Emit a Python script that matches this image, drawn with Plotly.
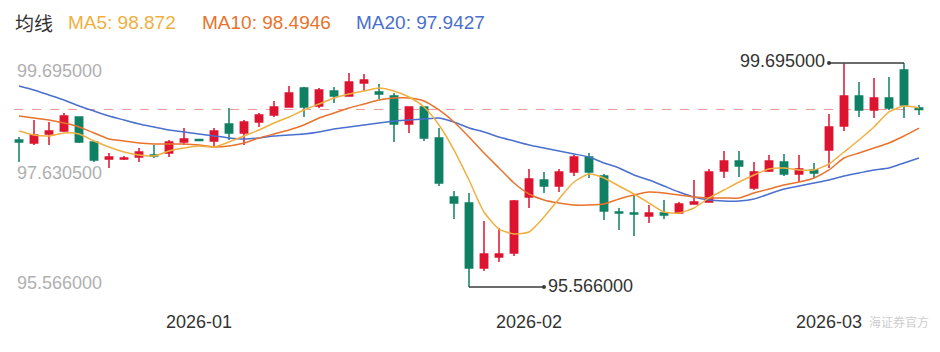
import plotly.graph_objects as go

# ---------------- data ----------------
dates = [
    "2025-12-16", "2025-12-17", "2025-12-18", "2025-12-19", "2025-12-22", "2025-12-23",
    "2025-12-24", "2025-12-25", "2025-12-26", "2025-12-29", "2025-12-30", "2025-12-31",
    "2026-01-01", "2026-01-02", "2026-01-05", "2026-01-06", "2026-01-07", "2026-01-08",
    "2026-01-09", "2026-01-12", "2026-01-13", "2026-01-14", "2026-01-15", "2026-01-16",
    "2026-01-19", "2026-01-20", "2026-01-21", "2026-01-22", "2026-01-23", "2026-01-26",
    "2026-01-27", "2026-01-28", "2026-01-29", "2026-01-30",
    "2026-02-02", "2026-02-03", "2026-02-04", "2026-02-05", "2026-02-06", "2026-02-09",
    "2026-02-10", "2026-02-11", "2026-02-12", "2026-02-13", "2026-02-16", "2026-02-17",
    "2026-02-18", "2026-02-19", "2026-02-20", "2026-02-23", "2026-02-24", "2026-02-25",
    "2026-02-26", "2026-02-27",
    "2026-03-02", "2026-03-03", "2026-03-04", "2026-03-05", "2026-03-06", "2026-03-09",
    "2026-03-10",
]

open_ = [
    98.276, 98.220, 98.386, 98.442, 98.700, 98.239, 97.925, 97.925, 97.962, 97.999,
    98.036, 98.239, 98.285, 98.257, 98.571, 98.405, 98.607, 98.736, 98.884, 99.234,
    98.902, 99.179, 99.087, 99.326, 99.160, 99.087, 98.571, 98.884, 98.313, 97.225,
    97.114, 95.916, 96.119, 96.193, 97.225, 97.538, 97.428, 97.686, 97.962, 97.612,
    96.948, 96.930, 96.875, 96.930, 96.930, 97.096, 97.133, 97.704, 97.889, 97.391,
    97.704, 97.870, 97.649, 97.723, 98.091, 98.534, 99.087, 98.829, 99.050, 99.566,
    98.866,
]
high = [
    98.331, 98.644, 98.607, 98.773, 98.705, 98.245, 98.036, 97.981, 98.128, 98.184,
    98.276, 98.497, 98.294, 98.497, 98.866, 98.644, 98.773, 98.995, 99.271, 99.253,
    99.234, 99.253, 99.511, 99.492, 99.308, 99.142, 98.890, 98.890, 98.497, 97.336,
    97.299, 96.783, 96.654, 97.170, 97.741, 97.686, 97.741, 97.999, 98.036, 97.649,
    97.022, 97.280, 97.078, 97.170, 97.133, 97.538, 97.741, 98.073, 98.073, 97.870,
    97.999, 98.018, 97.999, 97.852, 98.755, 99.686, 99.345, 99.419, 99.437, 99.695,
    98.921,
]
low = [
    97.870, 98.184, 98.184, 98.423, 98.220, 97.870, 97.760, 97.907, 97.870, 97.944,
    97.962, 98.184, 98.257, 98.147, 98.276, 98.184, 98.515, 98.700, 98.880, 98.700,
    98.866, 98.958, 99.082, 99.179, 99.031, 98.239, 98.405, 98.257, 97.428, 96.819,
    95.566, 95.861, 96.027, 96.137, 97.022, 97.299, 97.317, 97.612, 97.575, 96.801,
    96.617, 96.506, 96.746, 96.819, 96.912, 97.090, 97.130, 97.575, 97.594, 97.354,
    97.686, 97.612, 97.501, 97.575, 97.760, 98.442, 98.700, 98.681, 98.829, 98.681,
    98.736,
]
close = [
    98.239, 98.368, 98.442, 98.718, 98.239, 97.907, 97.962, 97.944, 98.054, 97.981,
    98.239, 98.294, 98.266, 98.442, 98.405, 98.607, 98.736, 98.884, 99.142, 98.884,
    99.197, 99.087, 99.345, 99.382, 99.124, 98.571, 98.884, 98.313, 97.483, 97.114,
    95.916, 96.174, 96.174, 97.151, 97.557, 97.428, 97.686, 97.962, 97.686, 96.967,
    96.930, 96.912, 96.930, 96.893, 97.096, 97.133, 97.686, 97.889, 97.796, 97.686,
    97.889, 97.649, 97.741, 97.667, 98.515, 99.087, 98.829, 99.050, 98.866, 98.921,
    98.838,
]

ma5 = [
    98.442, 98.368, 98.349, 98.405, 98.386, 98.257, 98.147, 98.054, 97.999, 97.981,
    98.073, 98.128, 98.165, 98.147, 98.239, 98.349, 98.460, 98.589, 98.700, 98.829,
    98.939, 99.050, 99.124, 99.179, 99.234, 99.179, 99.068, 98.884, 98.552, 98.091,
    97.538, 96.948, 96.635, 96.543, 96.580, 96.856, 97.188, 97.501, 97.649, 97.575,
    97.428, 97.280, 97.114, 96.948, 96.930, 97.022, 97.207, 97.354, 97.501, 97.631,
    97.741, 97.760, 97.723, 97.723, 97.833, 98.054, 98.276, 98.515, 98.792, 98.902,
    98.872,
]
ma10 = [
    98.718, 98.681, 98.644, 98.589, 98.515, 98.405, 98.294, 98.257, 98.220, 98.202,
    98.202, 98.202, 98.184, 98.147, 98.165, 98.220, 98.313, 98.386, 98.460, 98.552,
    98.681, 98.773, 98.866, 98.939, 99.013, 99.050, 99.050, 98.995, 98.829, 98.607,
    98.331, 98.036, 97.760, 97.483, 97.280, 97.170, 97.114, 97.078, 97.078, 97.096,
    97.188, 97.262, 97.317, 97.299, 97.262, 97.225, 97.207, 97.207, 97.207, 97.299,
    97.372, 97.446, 97.501, 97.575, 97.723, 97.944, 98.036, 98.128, 98.220, 98.349,
    98.4946,
]
ma20 = [
    99.271, 99.197, 99.105, 99.013, 98.902, 98.810, 98.718, 98.644, 98.571, 98.515,
    98.460, 98.423, 98.386, 98.349, 98.313, 98.294, 98.313, 98.349, 98.368, 98.386,
    98.423, 98.478, 98.515, 98.552, 98.589, 98.626, 98.644, 98.663, 98.681, 98.607,
    98.497, 98.423, 98.331, 98.257, 98.184, 98.128, 98.073, 98.018, 97.962, 97.852,
    97.760, 97.631, 97.538, 97.428, 97.317, 97.225, 97.170, 97.151, 97.151, 97.188,
    97.280, 97.372, 97.428, 97.483, 97.538, 97.612, 97.667, 97.723, 97.760, 97.852,
    97.9427,
]

legend_title = "均线"
ma_labels = ["MA5: 98.872", "MA10: 98.4946", "MA20: 97.9427"]
y_tick_values = [99.695, 97.6305, 95.566]
y_tick_labels = ["99.695000", "97.630500", "95.566000"]
month_ticks = ["2026-01-01", "2026-02-02", "2026-03-02"]
month_labels = ["2026-01", "2026-02", "2026-03"]
watermark = "海证券官方"

# ---------------- styles ----------------
RED = "#dc1430"
GREEN = "#0f8064"
C_MA5 = "#f0b040"
C_MA10 = "#e8732c"
C_MA20 = "#4a6fcc"
FONT = "Liberation Sans, Arial, sans-serif"

fig = go.Figure()

fig.add_trace(go.Candlestick(
    x=dates, open=open_, high=high, low=low, close=close,
    increasing=dict(line=dict(color=RED, width=1.5), fillcolor=RED),
    decreasing=dict(line=dict(color=GREEN, width=1.5), fillcolor=GREEN),
    whiskerwidth=0, hoverinfo="skip", showlegend=False,
))

for vals, col in [(ma20, C_MA20), (ma10, C_MA10), (ma5, C_MA5)]:
    fig.add_trace(go.Scatter(
        x=dates, y=vals, mode="lines",
        line=dict(color=col, width=1.5, shape="spline", smoothing=0.6),
        hoverinfo="skip", showlegend=False,
    ))

# last-price dashed line
fig.add_shape(type="line", xref="x", yref="y", x0=-0.33, x1=60.47,
              y0=close[-1], y1=close[-1],
              line=dict(color="#f29a9a", width=1, dash="dash"),
              layer="below")

# max / min markers
i_max = max(range(len(high)), key=lambda i: high[i])
i_min = min(range(len(low)), key=lambda i: low[i])
mk_col = "#3a3a3a"
fig.add_shape(type="line", xref="x", yref="y", x0=i_max - 5, x1=i_max,
              y0=high[i_max], y1=high[i_max], line=dict(color=mk_col, width=1.5))
fig.add_shape(type="line", xref="x", yref="y", x0=i_min, x1=i_min + 5,
              y0=low[i_min], y1=low[i_min], line=dict(color=mk_col, width=1.5))
fig.add_trace(go.Scatter(
    x=[dates[i_max - 5], dates[i_min + 5]], y=[high[i_max], low[i_min]],
    mode="markers", marker=dict(color=mk_col, size=4), hoverinfo="skip", showlegend=False,
))

annotations = []
annotations.append(dict(x=i_max - 5, y=high[i_max], xref="x", yref="y",
                        text=f"{high[i_max]:.6f}", showarrow=False,
                        xanchor="right", yanchor="middle", xshift=-2, yshift=2,
                        font=dict(family=FONT, size=18, color="#333333")))
annotations.append(dict(x=i_min + 5, y=low[i_min], xref="x", yref="y",
                        text=f"{low[i_min]:.6f}", showarrow=False,
                        xanchor="left", yanchor="middle", xshift=2, yshift=1,
                        font=dict(family=FONT, size=18, color="#333333")))

# y labels (inside, left)
y_label_pos = [0.952, 0.5087, 0.0326]
for lab, py in zip(y_tick_labels, y_label_pos):
    annotations.append(dict(x=15 / 940, y=py, xref="paper", yref="paper", text=lab,
                            showarrow=False, xanchor="left", yanchor="middle",
                            font=dict(family=FONT, size=18, color="#b0b0b0")))

# legend row
annotations.append(dict(x=13 / 940, y=1.165, xref="paper", yref="paper", text=legend_title,
                        showarrow=False, xanchor="left", yanchor="middle",
                        font=dict(family="Noto Sans CJK SC", size=19, color="#333333")))
for lab, col, px in zip(ma_labels, [C_MA5, C_MA10, C_MA20], [66, 200, 354]):
    annotations.append(dict(x=px / 940, y=1.165, xref="paper", yref="paper", text=lab,
                            showarrow=False, xanchor="left", yanchor="middle",
                            font=dict(family=FONT, size=19, color=col)))

# watermark
annotations.append(dict(x=931 / 940, y=-0.139, xref="paper", yref="paper", text=watermark,
                        showarrow=False, xanchor="right", yanchor="middle",
                        font=dict(family="Noto Sans CJK SC", size=12, color="rgba(190,190,190,0.8)")))

fig.update_layout(
    width=940, height=352,
    margin=dict(l=0, r=0, t=60, b=62),
    paper_bgcolor="white", plot_bgcolor="white",
    annotations=annotations,
    xaxis=dict(type="category", range=[-1.2667, 61.4], rangeslider=dict(visible=False),
               showgrid=False, zeroline=False, showline=False, ticks="",
               tickvals=month_ticks, ticktext=month_labels, ticklabelstandoff=19,
               tickfont=dict(family=FONT, size=18, color="#333333")),
    yaxis=dict(range=[95.5107, 99.7503], showgrid=False, zeroline=False,
               showline=False, showticklabels=False, ticks=""),
    showlegend=False,
)

fig.write_html("out.html")
